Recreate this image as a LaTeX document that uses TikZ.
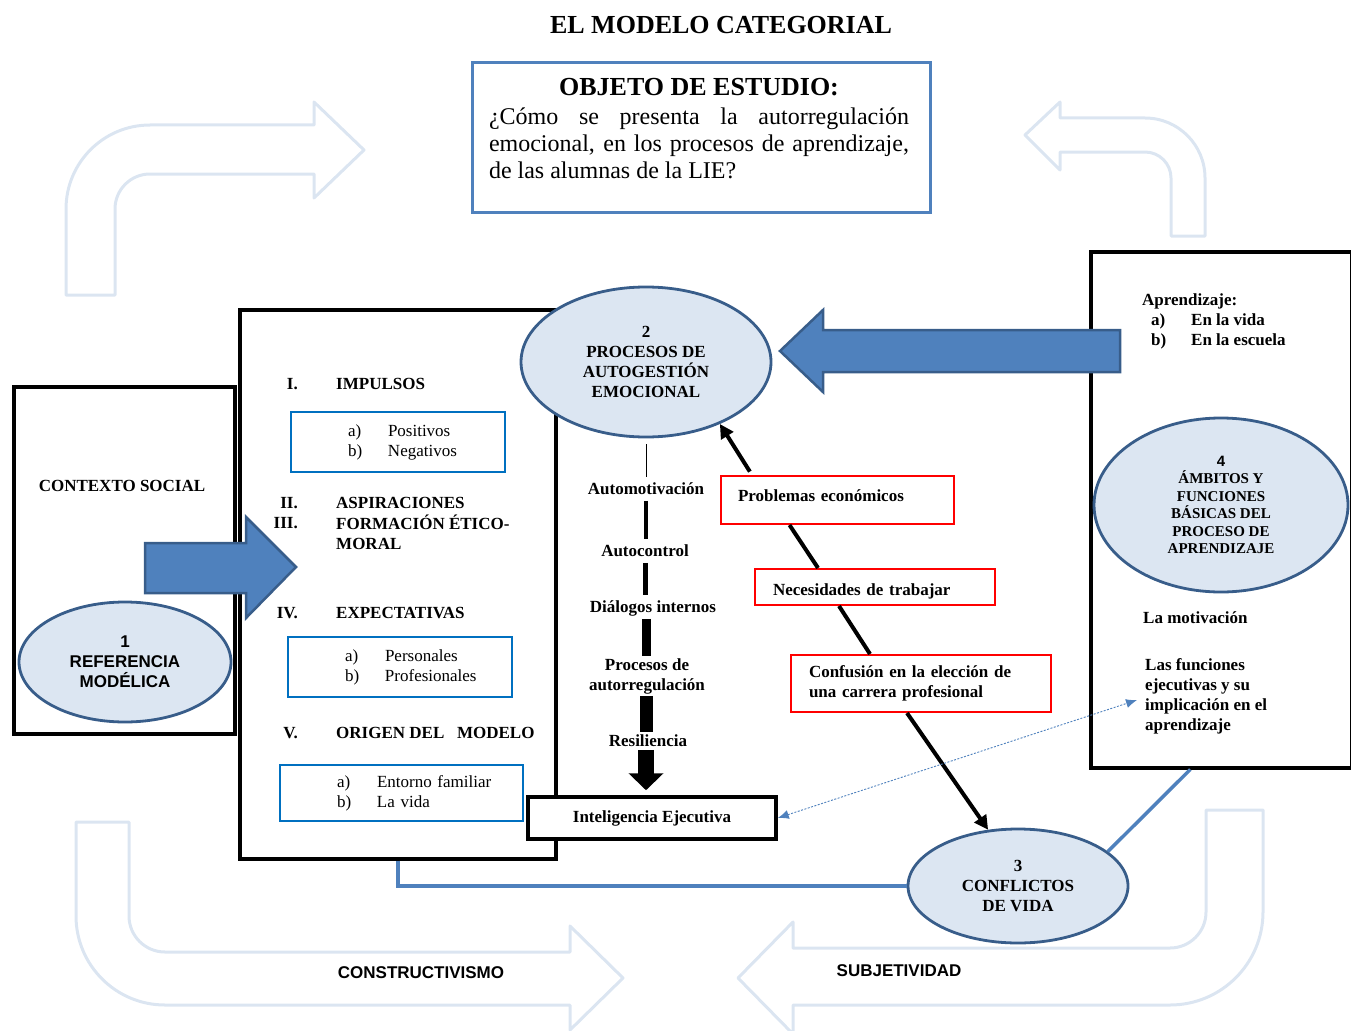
\documentclass[tikz,border=0pt]{standalone}
\usepackage{fontspec}
\setmainfont{Liberation Serif}
\setsansfont{Liberation Sans}
\usetikzlibrary{shapes.geometric,arrows.meta,calc}
\definecolor{paleblue}{RGB}{219,229,241}
\definecolor{boxblue}{RGB}{79,129,189}
\definecolor{edgeblue}{RGB}{56,93,138}
\definecolor{ellfill}{RGB}{220,230,242}
\definecolor{listblue}{RGB}{0,112,192}
\newcommand{\bodyfont}{\fontsize{17}{20}\selectfont}
\newcommand{\abitems}[3]{\noindent\begin{tabular}{@{\hspace{#1}}p{40pt}@{}l@{}}a) & #2\\ b) & #3\end{tabular}}

\begin{document}
\begin{tikzpicture}[x=1pt,y=-1pt,font=\bodyfont,
  bentarrow/.style={draw=paleblue,line width=3pt,line join=round},
  blockarrow/.style={fill=boxblue,draw=edgeblue,line width=2.5pt},
  blackframe/.style={draw=black,line width=3.5pt,anchor=north west,inner sep=0pt},
  bubble/.style={ellipse,draw=edgeblue,fill=ellfill,line width=2.8pt,inner sep=0pt,align=center,font=\bodyfont\bfseries},
  listbox/.style={draw=listblue,line width=2.5pt,inner xsep=0pt,inner ysep=0pt,align=left,font=\bodyfont},
  redbox/.style={draw=red,line width=2pt,align=left,inner ysep=0pt,font=\bodyfont\bfseries},
  txtlbl/.style={inner sep=0pt,text height=11.5pt,text depth=0pt,font=\bodyfont\bfseries},
  numlbl/.style={txtlbl,anchor=east},
  headlbl/.style={txtlbl,anchor=west},
  chainline/.style={line width=4pt},
  bluelink/.style={draw=boxblue,line width=3.5pt},
  dotlink/.style={draw=boxblue,line width=0.9pt,dash pattern=on 2pt off 1.5pt,arrows={Latex[length=11pt,width=9pt]-Latex[length=11pt,width=9pt]}}]
\useasboundingbox (0,0) rectangle (1351,1030);

% draw pale bent arrows
\draw[bentarrow] (66,295) -- (66,209) arc[start angle=180,end angle=270,radius=84] -- (314,125) -- (314,102) -- (364,150) -- (314,198) -- (314,174) -- (150,174) arc[start angle=270,end angle=180,radius=35] -- (115,295) -- cycle;
\draw[bentarrow] (1025,135) -- (1060,102) -- (1060,118) -- (1145,118) arc[start angle=270,end angle=360,radius=60] -- (1205,236) -- (1171,236) -- (1171,178) arc[start angle=0,end angle=-90,radius=26] -- (1060,152) -- (1060,170) -- cycle;
\draw[bentarrow] (76,822) -- (129,822) -- (129,916) arc[start angle=180,end angle=90,radius=36] -- (570,952) -- (570,926) -- (623,978) -- (570,1030) -- (570,1005) -- (165,1005) arc[start angle=90,end angle=180,radius=89] -- cycle;
\draw[bentarrow] (1206,810) -- (1263,810) -- (1263,912) arc[start angle=0,end angle=90,radius=93] -- (793,1005) -- (793,1034) -- (738,978) -- (793,922) -- (793,948) -- (1170,948) arc[start angle=90,end angle=0,radius=36] -- cycle;
\node[font=\sffamily\bfseries\bodyfont] (constr) at (421,973) {CONSTRUCTIVISMO};
\node[font=\sffamily\bfseries\bodyfont] (subj) at (899,971) {SUBJETIVIDAD};

% draw title and object of study
\node[font=\fontsize{26}{30}\selectfont\bfseries] (title) at (721,25) {EL MODELO CATEGORIAL};
\node[draw=boxblue,line width=3pt,minimum width=458pt,minimum height=150pt,anchor=north west] (objbox) at (471,61) {};
\node[font=\fontsize{26}{30}\selectfont\bfseries] (objhead) at (699,87) {OBJETO DE ESTUDIO:};
\node[text width=420pt,align=justify,inner sep=0pt,font=\fontsize{24}{27}\selectfont] (question) at (699,143) {\hyphenpenalty=10000 ¿Cómo se presenta la autorregulación\linebreak emocional, en los procesos de aprendizaje,\linebreak de las alumnas de la LIE?};

% draw frames
\node[blackframe,minimum width=221pt,minimum height=347pt] (socialframe) at (12,385) {};
\node[blackframe,minimum width=316pt,minimum height=549pt] (listframe) at (238,308) {};
\node[blackframe,minimum width=261pt,minimum height=516pt] (rightframe) at (1089,250) {};
\node[txtlbl] (contexto) at (122,486) {CONTEXTO SOCIAL};

% draw list of categories
\node[numlbl] (n1) at (298,384) {I.};
\node[headlbl] (h1) at (336,384) {IMPULSOS};
\node[listbox,text width=214pt,minimum height=60pt] (impbox) at (398,442) {\abitems{57pt}{Positivos}{Negativos}};
\node[numlbl] (n2) at (298,503) {II.};
\node[headlbl] (h2) at (336,503) {ASPIRACIONES};
\node[numlbl] (n3) at (298,523) {III.};
\node[anchor=west,inner sep=0pt,align=left,font=\bodyfont\bfseries] (h3) at (336,532) {FORMACIÓN ÉTICO-\\MORAL};
\node[numlbl] (n4) at (298,613) {IV.};
\node[headlbl] (h4) at (336,613) {EXPECTATIVAS};
\node[listbox,text width=224pt,minimum height=60pt] (expbox) at (400,667) {\abitems{57pt}{Personales}{Profesionales}};
\node[numlbl] (n5) at (298,733) {V.};
\node[headlbl] (h5) at (336,733) {ORIGEN DEL\ \ \ MODELO};
\node[listbox,text width=243pt,minimum height=56pt] (origbox) at (401.5,793) {\abitems{57pt}{Entorno familiar}{La vida}};

% draw right frame texts
\node[anchor=west,inner sep=0pt,font=\bodyfont\bfseries] (aprend) at (1142,321) {\begin{tabular}{@{\hspace{9pt}}p{40pt}@{}l@{}}\multicolumn{2}{@{}l@{}}{Aprendizaje:}\\ a) & En la vida\\ b) & En la escuela\end{tabular}};
\node[headlbl] (motiv) at (1143,618) {La motivación};
\node[anchor=west,inner sep=0pt,align=left,font=\bodyfont\bfseries] (funcs) at (1145,696) {Las funciones\\ejecutivas y su\\implicación en el\\aprendizaje};

% draw ellipses
\node[bubble,minimum width=212pt,minimum height=120pt,font=\sffamily\bfseries\bodyfont] (refmod) at (125,662) {1\\REFERENCIA\\MODÉLICA};
\node[bubble,minimum width=250pt,minimum height=150pt] (procesos) at (646,362) {2\\PROCESOS DE\\AUTOGESTIÓN\\EMOCIONAL};
\node[bubble,minimum width=220pt,minimum height=114pt] (conflictos) at (1018,886) {3\\CONFLICTOS\\DE VIDA};
\node[bubble,minimum width=254pt,minimum height=174pt,font=\fontsize{15}{17.5}\selectfont\bfseries] (ambitos) at (1221,505) {{\sffamily 4}\\ÁMBITOS Y\\FUNCIONES\\BÁSICAS DEL\\PROCESO DE\\APRENDIZAJE};

% draw blue arrows
\draw[blockarrow] (145,543) -- (246,543) -- (246,517) -- (296,567) -- (246,618) -- (246,593) -- (145,593) -- cycle;
\draw[blockarrow] (1120,330) -- (823,330) -- (823,310) -- (780,351) -- (823,392) -- (823,372) -- (1120,372) -- cycle;
\draw[bluelink] (listframe.south) |- (conflictos.west);
\draw[bluelink] (conflictos.21) -- ([xshift=-31pt]rightframe.south);

% draw central column
\node[txtlbl] (automot) at (646,489) {Automotivación};
\node[txtlbl] (autocont) at (645,551) {Autocontrol};
\node[txtlbl] (dialog) at (653,607) {Diálogos internos};
\node[inner sep=0pt,align=center,font=\bodyfont\bfseries] (procreg) at (647,676) {Procesos de\\autorregulación};
\node[txtlbl] (resil) at (648,741) {Resiliencia};
\node[draw,fill=white,line width=3.5pt,minimum width=248pt,minimum height=42pt,inner sep=0pt,font=\bodyfont\bfseries] (intel) at (652,818) {Inteligencia Ejecutiva};
\draw[line width=0.8pt,shorten <=6pt,shorten >=6pt] (procesos.south) -- (procesos.south |- automot.north);
\draw[line width=4pt,shorten <=6pt,shorten >=6pt] (automot.south) -- (automot.south |- autocont.north);
\draw[line width=5pt,shorten <=6pt,shorten >=6pt] (autocont.south) -- (autocont.south |- dialog.north);
\draw[line width=9pt,shorten <=6pt,shorten >=2pt] (dialog.south -| procesos.south) -- (procreg.north -| procesos.south);
\draw[line width=13pt,shorten <=2pt,shorten >=3pt] (procreg.south -| procesos.south) -- (resil.north -| procesos.south);
\draw[line width=16pt,shorten <=3pt,shorten >=5pt,-{Triangle[length=17pt,width=34pt]}] (resil.south -| procesos.south) -- (intel.north -| procesos.south);

% draw conflict chain
\node[redbox,text width=199pt,inner xsep=17pt,minimum height=48pt,text height=12pt,text depth=10pt] (econ) at (837.5,500) {Problemas económicos};
\node[redbox,text width=204pt,inner xsep=18pt,minimum height=36pt,text height=16pt,text depth=0pt] (trabajo) at (875,587) {Necesidades de trabajar};
\node[redbox,text width=224pt,inner xsep=18pt,minimum height=57pt] (carrera) at (921,683.5) {Confusión en la elección de\\una carrera profesional};
\draw[chainline,shorten <=4pt,-{Triangle[length=14pt,width=14pt]}] ([xshift=-85.5pt]econ.north) -- (procesos.-40);
\draw[chainline] ([xshift=-48pt]econ.south) -- ([xshift=-57pt]trabajo.north);
\draw[chainline] ([xshift=-36pt]trabajo.south) -- ([xshift=-51pt]carrera.north);
\draw[chainline,-{Triangle[length=14pt,width=14pt]}] ([xshift=-14pt]carrera.south) -- (conflictos.118);
\draw[dotlink] (intel.east) -- ($(funcs.west)+(-8,4)$);
\end{tikzpicture}
\end{document}
